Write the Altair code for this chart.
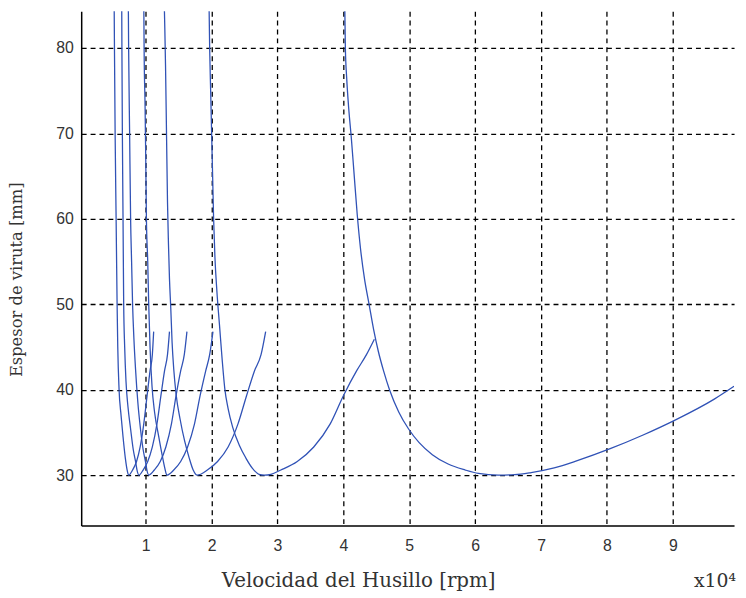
import altair as alt
import pandas as pd

# Stability lobes (x in units of 10^4 rpm, y = chip thickness [mm])
lobe1_x = [4.02, 4.03, 4.05, 4.08, 4.12, 4.16, 4.21, 4.26, 4.32, 4.39, 4.46, 4.53, 4.61, 4.70, 4.84, 4.99,
           5.15, 5.35, 5.59, 5.85, 6.05, 6.35, 6.60, 6.85, 7.20, 7.55, 8.05, 8.55, 9.05, 9.63, 9.93]
lobe1_y = [85.5, 80.0, 76.5, 73.0, 69.5, 65.5, 60.5, 56.5, 53.0, 50.0, 47.0, 44.5, 42.2, 40.0, 37.4, 35.4,
           33.8, 32.4, 31.3, 30.6, 30.2, 30.0, 30.05, 30.3, 30.85, 31.7, 33.1, 34.7, 36.5, 38.9, 40.4]

lobe2_x = [1.96, 1.97, 1.985, 2.00, 2.015, 2.03, 2.05, 2.08, 2.12, 2.16, 2.20, 2.25, 2.32, 2.42, 2.52, 2.62,
           2.72, 2.80, 2.90, 3.05, 3.30, 3.55, 3.80, 4.00, 4.20, 4.35, 4.47]
lobe2_y = [85.5, 80.0, 75.0, 70.0, 65.0, 60.0, 55.5, 51.5, 47.5, 43.5, 40.1, 37.8, 35.6, 33.5, 32.0, 30.8,
           30.1, 30.0, 30.1, 30.6, 31.6, 33.3, 36.0, 39.3, 42.2, 44.1, 45.9]

lobe3_x = [1.28, 1.29, 1.30, 1.315, 1.33, 1.345, 1.36, 1.38, 1.40, 1.425, 1.46, 1.52, 1.59, 1.66, 1.72, 1.78,
           1.935, 2.09, 2.25, 2.40, 2.53, 2.65, 2.75, 2.82]
lobe3_y = [85.5, 82.0, 78.0, 70.0, 62.0, 57.0, 53.0, 49.5, 45.5, 42.4, 39.5, 36.6, 34.0, 32.0, 30.6, 30.0,
           30.6, 31.6, 33.3, 36.0, 39.3, 42.2, 44.1, 46.8]

lobe4_x = [0.97, 0.975, 0.99, 1.00, 1.01, 1.03, 1.045, 1.065, 1.095, 1.135, 1.195, 1.25, 1.29, 1.32,
           1.425, 1.53, 1.635, 1.74, 1.825, 1.91, 1.97, 2.02]
lobe4_y = [85.5, 80.0, 73.0, 67.0, 60.0, 55.0, 50.0, 45.0, 40.4, 37.3, 34.6, 32.3, 30.8, 30.0,
           30.6, 31.6, 33.3, 36.0, 39.3, 42.2, 44.1, 46.8]

lobe5_x = [0.735, 0.74, 0.755, 0.77, 0.785, 0.80, 0.82, 0.845, 0.88, 0.92, 0.96, 0.995, 1.02, 1.045,
           1.13, 1.22, 1.305, 1.39, 1.46, 1.53, 1.585, 1.625]
lobe5_y = [85.5, 80.0, 70.0, 60.0, 55.0, 50.0, 46.0, 42.4, 38.5, 35.4, 33.0, 31.6, 30.5, 30.0,
           30.6, 31.6, 33.3, 36.0, 39.3, 42.2, 44.1, 46.8]

lobe6_x = [0.635, 0.638, 0.645, 0.655, 0.665, 0.68, 0.70, 0.73, 0.77, 0.81, 0.845, 0.87, 0.895,
           0.96, 1.03, 1.10, 1.17, 1.23, 1.285, 1.33, 1.36]
lobe6_y = [85.5, 80.0, 70.0, 60.0, 50.0, 45.0, 41.0, 38.0, 35.4, 33.0, 31.6, 30.5, 30.0,
           30.6, 31.6, 33.3, 36.0, 39.3, 42.2, 44.1, 46.8]

lobe7_x = [0.52, 0.525, 0.535, 0.55, 0.565, 0.575, 0.595, 0.625, 0.655, 0.69, 0.72, 0.74,
           0.80, 0.86, 0.915, 0.97, 1.02, 1.065, 1.10, 1.12]
lobe7_y = [85.5, 80.0, 70.0, 60.0, 50.0, 45.0, 40.0, 37.0, 34.5, 32.0, 30.5, 30.0,
           30.6, 31.6, 33.3, 36.0, 39.3, 42.2, 44.1, 46.8]

x_ticks = [1, 2, 3, 4, 5, 6, 7, 8, 9]
y_ticks = [30, 40, 50, 60, 70, 80]

lobes = [(lobe1_x, lobe1_y), (lobe2_x, lobe2_y), (lobe3_x, lobe3_y), (lobe4_x, lobe4_y),
         (lobe5_x, lobe5_y), (lobe6_x, lobe6_y), (lobe7_x, lobe7_y)]
rows = []
for i, (xs, ys) in enumerate(lobes):
    for j, (xv, yv) in enumerate(zip(xs, ys)):
        rows.append({"lobe": i, "ord": j, "x": xv, "y": yv})
df = pd.DataFrame(rows)

lines = alt.Chart(df).mark_line(color="#3052b6", strokeWidth=1.3, clip=True, interpolate="monotone").encode(
    x=alt.X("x:Q", scale=alt.Scale(domain=[0.02, 9.93], nice=False, zero=False),
            axis=alt.Axis(values=x_ticks, title="Velocidad del Husillo [rpm]", labelPadding=12,
                          titleFontSize=20, titleX=280, titleY=56,
                          titleAlign="center", titleBaseline="middle")),
    y=alt.Y("y:Q", scale=alt.Scale(domain=[24.1, 84.3], nice=False, zero=False),
            axis=alt.Axis(values=y_ticks, title="Espesor de viruta [mm]", labelPadding=8,
                          titleFontSize=16.5, titleX=-65, titleY=271,
                          titleAlign="center", titleBaseline="middle")),
    detail="lobe:N",
    order="ord:Q",
)

note = alt.Chart(pd.DataFrame({"t": ["x10⁴"]})).mark_text(
    align="right", baseline="middle", font="DejaVu Serif", fontSize=19, color="#333333"
).encode(x=alt.value(662), y=alt.value(576), text="t:N")

chart = alt.layer(lines, note).properties(
    width=660, height=520,
    autosize=alt.AutoSizeParams(type="none"),
    padding={"left": 74, "top": 0, "right": 4, "bottom": 70},
).configure_view(stroke=None).configure_axis(
    grid=True, gridColor="#000000", gridDash=[5, 4], gridWidth=1.3, gridOpacity=1,
    domainColor="#000000", domainWidth=1.5, ticks=False,
    labelFont="Liberation Sans", labelFontSize=16, labelColor="#333333",
    titleFont="DejaVu Serif", titleFontWeight="normal", titleColor="#333333",
    zindex=1,
)

chart.save("out.html", embed_options={"renderer": "svg", "actions": False})
